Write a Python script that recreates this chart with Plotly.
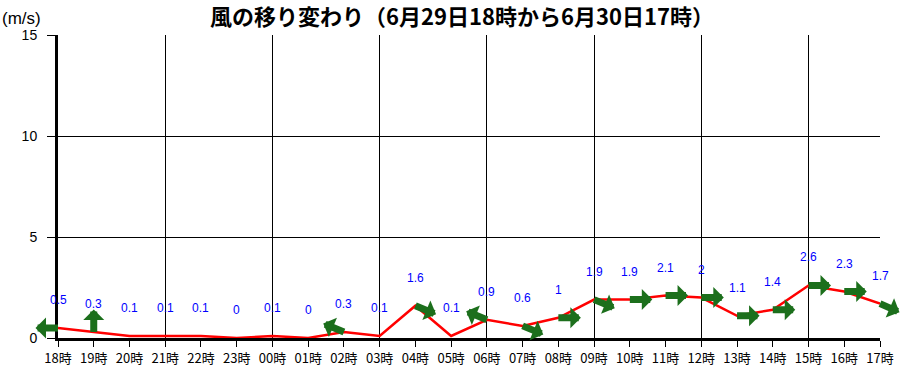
import math
import plotly.graph_objects as go

hours = ["18時", "19時", "20時", "21時", "22時", "23時", "00時", "01時", "02時", "03時",
         "04時", "05時", "06時", "07時", "08時", "09時", "10時", "11時", "12時", "13時",
         "14時", "15時", "16時", "17時"]
speed = [0.5, 0.3, 0.1, 0.1, 0.1, 0, 0.1, 0, 0.3, 0.1,
         1.6, 0.1, 0.9, 0.6, 1, 1.9, 1.9, 2.1, 2, 1.1,
         1.4, 2.6, 2.3, 1.7]
# arrow direction (degrees, counter-clockwise from east); None = no arrow (calm)
arrow_deg = [180, 90, None, None, None, None, None, None, 157.5, None,
             -22.5, None, 157.5, -22.5, 0, -22.5, 0, 0, 0, 0,
             0, 0, 0, -22.5]
speed_labels = ["0.5", "0.3", "0.1", "0.1", "0.1", "0", "0.1", "0", "0.3", "0.1",
                "1.6", "0.1", "0.9", "0.6", "1", "1.9", "1.9", "2.1", "2", "1.1",
                "1.4", "2.6", "2.3", "1.7"]
y_ticks = [0, 5, 10, 15]
title_text = "風の移り変わり（6月29日18時から6月30日17時）"
unit_text = "(m/s)"

xi = list(range(len(hours)))

fig = go.Figure()
fig.add_trace(go.Scatter(x=xi, y=speed, mode="lines",
                         line=dict(color="#ff0000", width=2.5),
                         hoverinfo="skip", showlegend=False))

ann = []
ARROW_LEN = 24
for i, (v, d) in enumerate(zip(speed, arrow_deg)):
    if d is not None:
        r = math.radians(d)
        ann.append(dict(x=i, y=v, xref="x", yref="y", text="", showarrow=True,
                        ax=ARROW_LEN * math.cos(r), ay=-ARROW_LEN * math.sin(r),
                        arrowside="start", startarrowhead=1, startarrowsize=0.5,
                        arrowwidth=7, arrowcolor="#1c6f1c"))
for i, (v, t) in enumerate(zip(speed, speed_labels)):
    ann.append(dict(x=i, y=v, xref="x", yref="y", text=t, showarrow=False,
                    yshift=28, font=dict(family="Liberation Sans, Arial", size=12, color="#0000ff")))

ann.append(dict(x=-58 / 822, y=(338 - 7) / 303, xref="paper", yref="paper",
                xanchor="left", yanchor="top", text=unit_text, showarrow=False,
                font=dict(family="Liberation Sans, Arial", size=17, color="#000")))

fig.update_layout(
    width=901, height=366,
    margin=dict(l=58, r=21, t=35, b=28),
    paper_bgcolor="white", plot_bgcolor="white",
    title=dict(text=title_text, x=462 / 901, xref="container", xanchor="center",
               y=1 - 17 / 366, yref="container", yanchor="middle",
               font=dict(family="Noto Sans CJK JP", size=22, color="#000", weight="bold")),
    annotations=ann,
    xaxis=dict(range=[0, 23], tickmode="array", tickvals=xi, ticktext=hours,
               automargin=False, showgrid=False, zeroline=False,
               showline=True, linecolor="#000", linewidth=3,
               ticks="outside", ticklen=6, tickcolor="#000", tickwidth=1,
               tickfont=dict(family="Noto Sans CJK JP", size=13, color="#000"),
               minor=dict(tickmode="array", tickvals=[3, 6, 9, 12, 15, 18, 21],
                          showgrid=True, gridcolor="#000", gridwidth=1, ticks="")),
    yaxis=dict(range=[0, 15], tickmode="array", tickvals=y_ticks, automargin=False,
               showgrid=True, gridcolor="#000", gridwidth=1, zeroline=False,
               showline=True, linecolor="#000", linewidth=3,
               ticks="outside", ticklen=8, tickcolor="#000", tickwidth=1,
               ticklabelstandoff=7,
               tickfont=dict(family="Liberation Sans, Arial", size=14, color="#000")),
)

fig.write_html("out.html", config={"displayModeBar": False},
               post_script="document.body.style.margin='0';")
